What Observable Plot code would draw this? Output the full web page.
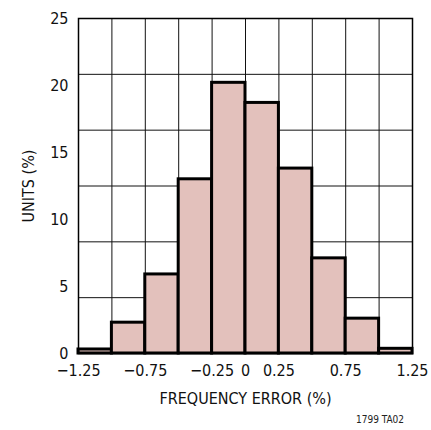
<!DOCTYPE html>
<html>
<head>
<meta charset="utf-8">
<script src="https://cdn.jsdelivr.net/npm/d3@7"></script>
<script src="https://cdn.jsdelivr.net/npm/@observablehq/plot@0.6"></script>
<style>
  body { margin: 0; background: #fff; }
  #wrap { position: relative; width: 431px; height: 430px; }
  #note { position: absolute; left: 356px; top: 414px; font: 10px "Liberation Sans Narrow", "DejaVu Sans Condensed", sans-serif; color: #222; }
</style>
</head>
<body>
<div id="wrap"></div>
<script>
const binStarts = [-1.25, -1.0, -0.75, -0.5, -0.25, 0.0, 0.25, 0.5, 0.75, 1.0];
const binWidth = 0.25;
const units = [0.3, 2.3, 5.9, 13.0, 20.2, 18.7, 13.8, 7.1, 2.6, 0.35];
const xTicks = [-1.25, -0.75, -0.25, 0, 0.25, 0.75, 1.25];
const yTicks = [0, 5, 10, 15, 20, 25];
const xGrid = [-1.25, -1.0, -0.75, -0.5, -0.25, 0, 0.25, 0.5, 0.75, 1.0, 1.25];
const yGrid = [0, 25/6, 50/6, 75/6, 100/6, 125/6, 25];

const bins = binStarts.map((s, i) => ({x1: s, x2: s + binWidth, y: units[i]}));
const fmt = d => d === 0 ? "0" : (d < 0 ? "\u2212" : "") + Math.abs(d).toFixed(2);

const chart = Plot.plot({
  width: 431,
  height: 430,
  marginLeft: 78,
  marginRight: 19,
  marginTop: 18,
  marginBottom: 77,
  style: {fontFamily: '"Liberation Sans Narrow", "DejaVu Sans Condensed", sans-serif', fontSize: "16px", color: "#111", background: "#fff"},
  x: {domain: [-1.25, 1.25], ticks: xTicks, tickFormat: fmt, tickSize: 0, tickPadding: 11, label: "FREQUENCY ERROR (%)", labelAnchor: "center", labelOffset: 50, labelArrow: "none"},
  y: {domain: [0, 25], ticks: yTicks, tickSize: 0, tickPadding: 10, label: "UNITS (%)", labelAnchor: "center", labelOffset: 56, labelArrow: "none"},
  marks: [
    Plot.ruleX(xGrid, {stroke: "#111", strokeWidth: 1}),
    Plot.ruleY(yGrid, {stroke: "#111", strokeWidth: 1}),
    Plot.rectY(bins, {x1: "x1", x2: "x2", y: "y", fill: "#e3c1bc", stroke: "#000", strokeWidth: 3, inset: 0}),
    Plot.frame({stroke: "#000", strokeWidth: 1.5})
  ]
});
const wrap = document.getElementById("wrap");
wrap.appendChild(chart);
const note = document.createElement("div");
note.id = "note";
note.textContent = "1799 TA02";
wrap.appendChild(note);
</script>
</body>
</html>
